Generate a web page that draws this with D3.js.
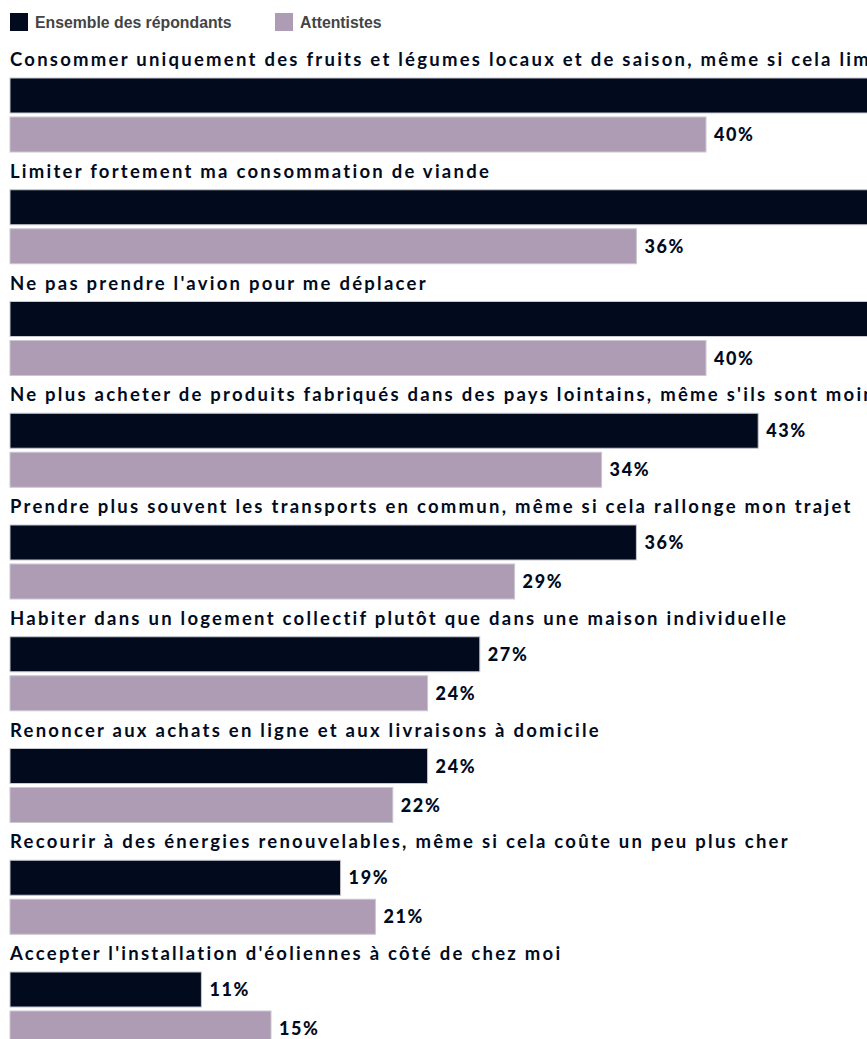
<!DOCTYPE html>
<html>
<head>
<meta charset="utf-8">
<script src="https://cdn.jsdelivr.net/npm/d3@7"></script>
<style>
  body { margin: 0; background: #fff; }
  svg { display: block; }
</style>
</head>
<body>
<svg id="chart" width="867" height="1039"></svg>
<script>
// Data (first three "Ensemble" values run off the frame in the source, estimated)
const actions = [
  "Consommer uniquement des fruits et légumes locaux et de saison, même si cela limite mes choix",
  "Limiter fortement ma consommation de viande",
  "Ne pas prendre l'avion pour me déplacer",
  "Ne plus acheter de produits fabriqués dans des pays lointains, même s'ils sont moins chers",
  "Prendre plus souvent les transports en commun, même si cela rallonge mon trajet",
  "Habiter dans un logement collectif plutôt que dans une maison individuelle",
  "Renoncer aux achats en ligne et aux livraisons à domicile",
  "Recourir à des énergies renouvelables, même si cela coûte un peu plus cher",
  "Accepter l'installation d'éoliennes à côté de chez moi"
];
const ensemble = [58, 52, 51, 43, 36, 27, 24, 19, 11];
const attentistes = [40, 36, 40, 34, 29, 24, 22, 21, 15];
const seriesNames = ["Ensemble des répondants", "Attentistes"];
const seriesColors = ["#020b1e", "#ae9bb4"];

const width = 867, height = 1039;
const left = 10;
const groupTop = 48, groupStep = 111.75;
const barH = 35, barGap = 4;

const svg = d3.select("#chart");

const x = d3.scaleLinear().domain([0, 40]).range([left, 706]);
const yGroup = d3.scaleLinear().domain([0, 1]).range([groupTop, groupTop + groupStep]);

// legend
const legend = svg.append("g");
const legendX = [10, 275];
seriesNames.forEach((name, i) => {
    legend.append("rect")
        .attr("x", legendX[i]).attr("y", 13)
        .attr("width", 18).attr("height", 18)
        .attr("fill", seriesColors[i]);
    legend.append("text")
        .attr("x", legendX[i] + 25).attr("y", 28)
        .attr("font-family", "Liberation Sans, Arial, sans-serif")
        .attr("font-weight", "bold")
        .attr("font-size", 15.8)
        .attr("fill", "#444")
        .text(name);
});

const groups = svg.append("g").selectAll("g")
    .data(actions.map((a, i) => ({label: a, vals: [ensemble[i], attentistes[i]]})))
    .join("g")
    .attr("transform", (d, i) => `translate(0,${yGroup(i)})`);

groups.append("text")
    .attr("x", left).attr("y", 18)
    .attr("font-family", "Lato, sans-serif")
    .attr("font-weight", "bold")
    .attr("font-size", 18.5)
    .attr("letter-spacing", 2.25)
    .attr("fill", "#020b1e")
    .text(d => d.label);

const bars = groups.selectAll("g.bar")
    .data(d => d.vals.map((v, j) => ({v, j})))
    .join("g")
    .attr("class", "bar")
    .attr("transform", d => `translate(0,${30 + d.j * (barH + barGap)})`);

bars.append("rect")
    .attr("x", x(0))
    .attr("y", 0)
    .attr("width", d => x(d.v) - x(0))
    .attr("height", barH)
    .attr("fill", d => seriesColors[d.j])
    .attr("stroke", "#c8c8d0")
    .attr("stroke-width", 1);

bars.append("text")
    .attr("x", d => x(d.v) + 8)
    .attr("y", barH / 2 + 6.5)
    .attr("font-family", "Lato, sans-serif")
    .attr("font-weight", "900")
    .attr("font-size", 18)
    .attr("letter-spacing", 1.6)
    .attr("fill", "#020b1e")
    .text(d => d.v + "%");
</script>
</body>
</html>
